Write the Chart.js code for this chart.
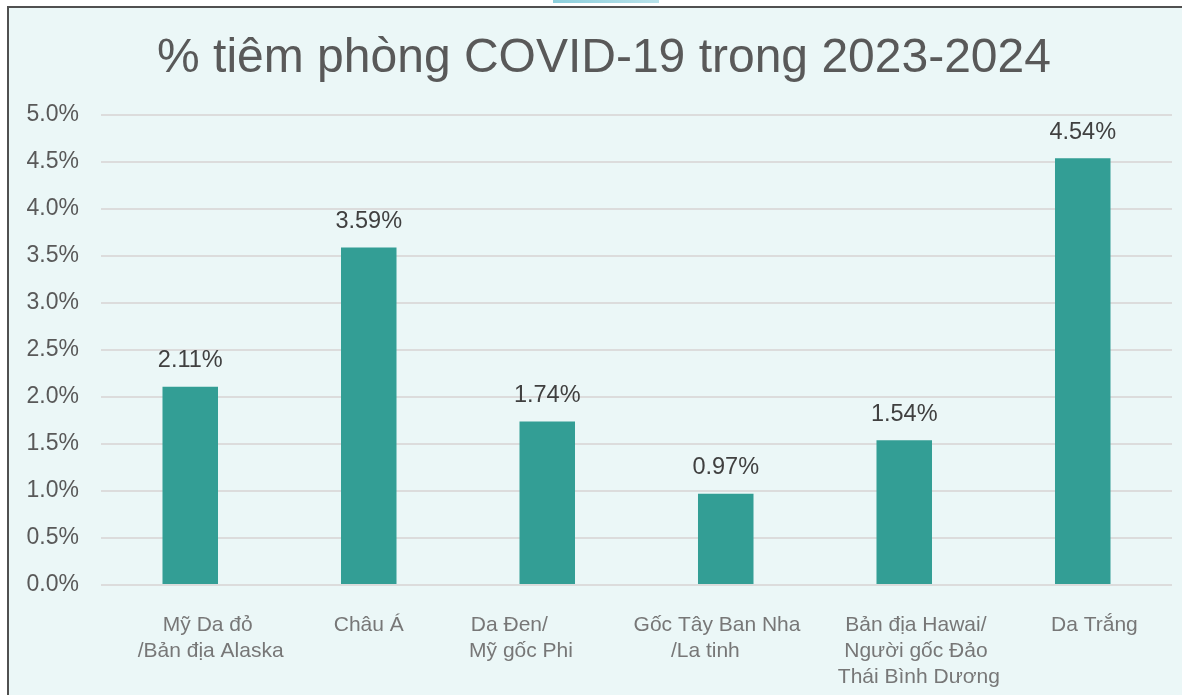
<!DOCTYPE html>
<html>
<head>
<meta charset="utf-8">
<script src="https://cdn.jsdelivr.net/npm/chart.js@4"></script>
<style>
  html, body { margin: 0; padding: 0; background: #ffffff; width: 1182px; height: 695px; overflow: hidden; }
  #frame { position: absolute; left: 7px; top: 6px; width: 1175px; height: 689px; background: #ebf7f7;
           border-top: 2px solid #505050; border-left: 2px solid #505050; box-sizing: border-box; }
  #tab { position: absolute; left: 553px; top: 0; width: 106px; height: 3px;
         background: linear-gradient(90deg, #8ccfdc, #b8e2ea); }
  #wrap { position: absolute; left: 9px; top: 8px; width: 1173px; height: 687px; }
</style>
</head>
<body>
<div id="frame"></div>
<div id="tab"></div>
<div id="wrap"><canvas id="c" width="1173" height="687"></canvas></div>
<script>
const titleText = "% tiêm phòng COVID-19 trong 2023-2024";
// category labels (spaces reproduce the original label alignment)
const categories = [
  ["      Mỹ Da đỏ", "       /Bản địa Alaska"],
  ["Châu Á"],
  ["Da Đen/             ", "Mỹ gốc Phi         "],
  ["Gốc Tây Ban Nha   ", "/La tinh       "],
  ["    Bản địa Hawai/", "    Người gốc Đảo", "     Thái Bình Dương"],
  ["    Da Trắng"]
];
const values = [2.11, 3.59, 1.74, 0.97, 1.54, 4.54];
const yTicks = [0, 0.5, 1.0, 1.5, 2.0, 2.5, 3.0, 3.5, 4.0, 4.5, 5.0];

const FONT = '"Liberation Sans", Arial, sans-serif';

const titleDraw = {
  id: 'titleDraw',
  afterDraw(chart) {
    const ctx = chart.ctx;
    ctx.save();
    ctx.font = '48px ' + FONT;
    ctx.fillStyle = '#595959';
    ctx.textAlign = 'center';
    ctx.textBaseline = 'alphabetic';
    ctx.fillText(titleText, 595, 64);
    ctx.restore();
  }
};

const valueLabels = {
  id: 'valueLabels',
  afterDatasetsDraw(chart) {
    const ctx = chart.ctx;
    const meta = chart.getDatasetMeta(0);
    ctx.save();
    ctx.font = '23.5px ' + FONT;
    ctx.fillStyle = '#404040';
    ctx.textAlign = 'center';
    ctx.textBaseline = 'middle';
    meta.data.forEach((bar, i) => {
      ctx.fillText(values[i].toFixed(2) + '%', bar.x, bar.y - 26);
    });
    ctx.restore();
  }
};

new Chart(document.getElementById('c'), {
  type: 'bar',
  data: {
    labels: categories,
    datasets: [{
      data: values,
      backgroundColor: '#339e95',
      borderWidth: 0,
      categoryPercentage: 1,
      barPercentage: 0.311
    }]
  },
  options: {
    responsive: false,
    animation: false,
    devicePixelRatio: 1,
    layout: { padding: { left: 0, right: 10, top: 107, bottom: 0 } },
    plugins: {
      legend: { display: false },
      tooltip: { enabled: false },
      title: { display: false }
    },
    scales: {
      x: {
        grid: { display: false, drawTicks: false },
        border: { display: false },
        ticks: {
          color: '#777777',
          padding: 27,
          maxRotation: 0,
          autoSkip: false,
          font: { family: FONT, size: 21, lineHeight: '26px' }
        },
        afterFit(s) { s.height = 110; }
      },
      y: {
        min: 0,
        max: 5,
        afterBuildTicks(s) { s.ticks = yTicks.map(v => ({ value: v })); },
        grid: { color: '#dcdcdc', lineWidth: 2, drawTicks: false },
        border: { display: false },
        ticks: {
          color: '#595959',
          padding: 22,
          font: { family: FONT, size: 23 },
          callback: v => Number(v).toFixed(1) + '%'
        },
        afterFit(s) { s.width = 92; }
      }
    }
  },
  plugins: [valueLabels, titleDraw]
});
</script>
</body>
</html>
